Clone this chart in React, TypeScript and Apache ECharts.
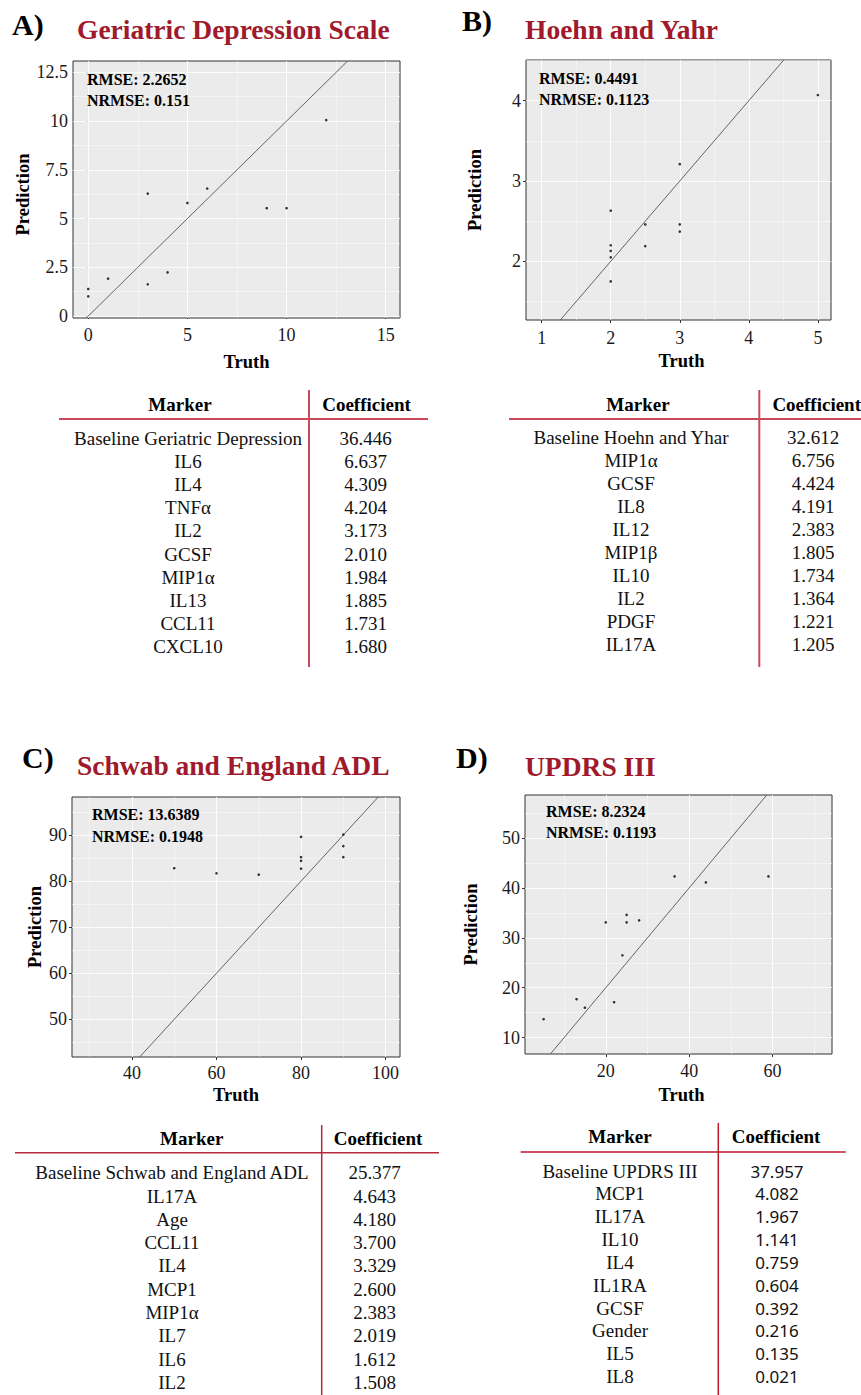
import React, { useEffect, useRef } from "react";
import * as echarts from "echarts";

// ---------- DATA ----------
// A) Geriatric Depression Scale
const gdsTruth = [0, 0, 1, 3, 3, 4, 5, 6, 9, 10, 12];
const gdsPred = [1.39, 1.01, 1.92, 1.63, 6.28, 2.24, 5.8, 6.54, 5.53, 5.53, 10.05];
const gdsXTicks = [0, 5, 10, 15];
const gdsYTicks = [0, 2.5, 5, 7.5, 10, 12.5];
const gdsXMinor = [2.5, 7.5, 12.5];
const gdsYMinor = [1.25, 3.75, 6.25, 8.75, 11.25];

// B) Hoehn and Yahr
const hyTruth = [2, 2, 2, 2, 2, 2.5, 2.5, 3, 3, 3, 5];
const hyPred = [2.63, 2.2, 2.13, 2.05, 1.75, 2.46, 2.19, 3.21, 2.46, 2.37, 4.07];
const hyXTicks = [1, 2, 3, 4, 5];
const hyYTicks = [2, 3, 4];
const hyXMinor = [1.5, 2.5, 3.5, 4.5];
const hyYMinor = [1.5, 2.5, 3.5, 4.5];

// C) Schwab and England ADL
const seTruth = [50, 60, 70, 80, 80, 80, 80, 90, 90, 90];
const sePred = [82.8, 81.7, 81.4, 89.6, 85.2, 84.4, 82.7, 90.1, 87.6, 85.2];
const seXTicks = [40, 60, 80, 100];
const seYTicks = [50, 60, 70, 80, 90];
const seXMinor = [30, 50, 70, 90];
const seYMinor = [45, 55, 65, 75, 85, 95];

// D) UPDRS III
const udTruth = [5.1, 13, 15, 22, 20, 24, 25, 25, 28, 36.5, 44, 59];
const udPred = [13.7, 17.7, 16.0, 17.1, 33.1, 26.5, 34.6, 33.1, 33.5, 42.3, 41.1, 42.3];
const udXTicks = [20, 40, 60];
const udYTicks = [10, 20, 30, 40, 50];
const udXMinor = [10, 30, 50, 70];
const udYMinor = [15, 25, 35, 45, 55];

// Titles & metrics
const panelLetters = ["A)", "B)", "C)", "D)"];
const panelTitles = ["Geriatric Depression Scale", "Hoehn and Yahr", "Schwab and England ADL", "UPDRS III"];
const rmseTexts = ["RMSE: 2.2652", "RMSE: 0.4491", "RMSE: 13.6389", "RMSE: 8.2324"];
const nrmseTexts = ["NRMSE: 0.151", "NRMSE: 0.1123", "NRMSE: 0.1948", "NRMSE: 0.1193"];

// Tables
const gdsMarkers = ["Baseline Geriatric Depression", "IL6", "IL4", "TNFα", "IL2", "GCSF", "MIP1α", "IL13", "CCL11", "CXCL10"];
const gdsCoefs = ["36.446", "6.637", "4.309", "4.204", "3.173", "2.010", "1.984", "1.885", "1.731", "1.680"];
const hyMarkers = ["Baseline Hoehn and Yhar", "MIP1α", "GCSF", "IL8", "IL12", "MIP1β", "IL10", "IL2", "PDGF", "IL17A"];
const hyCoefs = ["32.612", "6.756", "4.424", "4.191", "2.383", "1.805", "1.734", "1.364", "1.221", "1.205"];
const seMarkers = ["Baseline Schwab and England ADL", "IL17A", "Age", "CCL11", "IL4", "MCP1", "MIP1α", "IL7", "IL6", "IL2"];
const seCoefs = ["25.377", "4.643", "4.180", "3.700", "3.329", "2.600", "2.383", "2.019", "1.612", "1.508"];
const udMarkers = ["Baseline UPDRS III", "MCP1", "IL17A", "IL10", "IL4", "IL1RA", "GCSF", "Gender", "IL5", "IL8"];
const udCoefs = ["37.957", "4.082", "1.967", "1.141", "0.759", "0.604", "0.392", "0.216", "0.135", "0.021"];

// ---------- LAYOUT ----------
const SERIF = "'Liberation Serif', 'Times New Roman', serif";
const SANS = "'Noto Sans', 'Open Sans', sans-serif";
const TITLE_RED = "#9E1A2C";

type Panel = {
  grid: { left: number; top: number; width: number; height: number };
  xr: [number, number];
  yr: [number, number];
  truth: number[];
  pred: number[];
  xTicks: number[];
  yTicks: number[];
  xMinor: number[];
  yMinor: number[];
  xGap: number;
  yGap: number;
  xMargin: number;
  xNamePad: number;
  yNamePad: number;
  letterPos: [number, number];
  titlePos: [number, number];
  annoPos: [number, number, number];
};

const panels: Panel[] = [
  {
    grid: { left: 73, top: 61, width: 327, height: 257 },
    xr: [-0.77, 15.72], yr: [-0.1, 13.08],
    truth: gdsTruth, pred: gdsPred, xTicks: gdsXTicks, yTicks: gdsYTicks, xMinor: gdsXMinor, yMinor: gdsYMinor,
    xGap: 34, yGap: 36, xMargin: 8, xNamePad: 20, yNamePad: 10,
    letterPos: [12, 24], titlePos: [77, 29], annoPos: [87, 79, 100],
  },
  {
    grid: { left: 526, top: 60, width: 305, height: 260 },
    xr: [0.773, 5.19], yr: [1.27, 4.506],
    truth: hyTruth, pred: hyPred, xTicks: hyXTicks, yTicks: hyYTicks, xMinor: hyXMinor, yMinor: hyYMinor,
    xGap: 31, yGap: 42, xMargin: 9, xNamePad: 6, yNamePad: 0,
    letterPos: [462, 20], titlePos: [525, 29], annoPos: [539, 78, 99.5],
  },
  {
    grid: { left: 72, top: 797, width: 328, height: 260 },
    xr: [25.83, 103.4], yr: [41.83, 98.25],
    truth: seTruth, pred: sePred, xTicks: seXTicks, yTicks: seYTicks, xMinor: seXMinor, yMinor: seYMinor,
    xGap: 28, yGap: 28, xMargin: 7, xNamePad: 0, yNamePad: 0,
    letterPos: [22, 757], titlePos: [77, 765], annoPos: [92, 814, 836],
  },
  {
    grid: { left: 525, top: 795, width: 307, height: 259 },
    xr: [0.64, 74.24], yr: [6.73, 58.6],
    truth: udTruth, pred: udPred, xTicks: udXTicks, yTicks: udYTicks, xMinor: udXMinor, yMinor: udYMinor,
    xGap: 31, yGap: 45, xMargin: 8, xNamePad: 6, yNamePad: 0,
    letterPos: [456, 757], titlePos: [525, 766], annoPos: [546, 811, 832.5],
  },
];

type Table = {
  markers: string[];
  coefs: string[];
  headerY: number;
  markerHeadX: number;
  coefHeadX: number;
  markerX: number;
  coefX: number;
  rowY0: number;
  rowStep: number;
  hLine: [number, number, number];
  vLine: [number, number, number];
  lineColor: string;
  lineW: number;
  coefFont: string;
  coefSize: number;
};

const tables: Table[] = [
  {
    markers: gdsMarkers, coefs: gdsCoefs, headerY: 404, markerHeadX: 180, coefHeadX: 366.5,
    markerX: 188, coefX: 365.5, rowY0: 438.5, rowStep: 23.1,
    hLine: [59, 428, 419], vLine: [309, 390, 667], lineColor: "#C84A5C", lineW: 2, coefFont: SERIF, coefSize: 19,
  },
  {
    markers: hyMarkers, coefs: hyCoefs, headerY: 404, markerHeadX: 638, coefHeadX: 816.7,
    markerX: 631, coefX: 813, rowY0: 437, rowStep: 23.1,
    hLine: [509, 861, 419], vLine: [759.3, 390, 667], lineColor: "#C84A5C", lineW: 2, coefFont: SERIF, coefSize: 19,
  },
  {
    markers: seMarkers, coefs: seCoefs, headerY: 1138, markerHeadX: 191.7, coefHeadX: 378,
    markerX: 172, coefX: 374.7, rowY0: 1172.7, rowStep: 23.3,
    hLine: [15, 439, 1152.7], vLine: [321.7, 1125, 1395], lineColor: "#B8283C", lineW: 1.5, coefFont: SERIF, coefSize: 19,
  },
  {
    markers: udMarkers, coefs: udCoefs, headerY: 1136.7, markerHeadX: 620, coefHeadX: 776,
    markerX: 620, coefX: 777, rowY0: 1171, rowStep: 22.85,
    hLine: [520.7, 845.7, 1152], vLine: [718.3, 1123, 1395], lineColor: "#C0182E", lineW: 1.5, coefFont: SANS, coefSize: 17,
  },
];

function buildOption() {
  const grids: any[] = [];
  const xAxes: any[] = [];
  const yAxes: any[] = [];
  const series: any[] = [];
  const graphics: any[] = [];

  panels.forEach((p, i) => {
    grids.push({
      ...p.grid,
      show: true,
      backgroundColor: "#EBEBEB",
      borderColor: "#333333",
      borderWidth: 1,
      containLabel: false,
    });
    const labelStyle = { fontFamily: SERIF, fontSize: 18, color: "#1a1a1a" };
    xAxes.push({
      type: "value",
      gridIndex: i,
      min: p.xr[0],
      max: p.xr[1],
      name: "Truth",
      nameLocation: "middle",
      nameGap: p.xGap,
      nameTextStyle: { fontFamily: SERIF, fontSize: 18.5, fontWeight: "bold", color: "#000", padding: [0, 0, 0, p.xNamePad] },
      axisLine: { show: false },
      axisTick: { show: true, length: 3, customValues: p.xTicks, lineStyle: { color: "#333" } },
      axisLabel: { ...labelStyle, margin: p.xMargin, customValues: p.xTicks, showMinLabel: true, showMaxLabel: true },
      splitLine: { show: false },
    });
    yAxes.push({
      type: "value",
      gridIndex: i,
      min: p.yr[0],
      max: p.yr[1],
      name: "Prediction",
      nameLocation: "middle",
      nameGap: p.yGap,
      nameTextStyle: { fontFamily: SERIF, fontSize: 18.5, fontWeight: "bold", color: "#000", padding: [0, p.yNamePad, 0, 0] },
      axisLine: { show: false },
      axisTick: { show: true, length: 3, customValues: p.yTicks, lineStyle: { color: "#333" } },
      axisLabel: { ...labelStyle, margin: 5, customValues: p.yTicks, showMinLabel: true, showMaxLabel: true },
      splitLine: { show: false },
    });

    const lo = Math.max(p.xr[0], p.yr[0]);
    const hi = Math.min(p.xr[1], p.yr[1]);
    const major = { color: "#FFFFFF", width: 1, type: "solid", opacity: 0.85 };
    const minor = { color: "#FFFFFF", width: 0.5, type: "solid", opacity: 0.85 };
    const gridLines = [
      ...p.xTicks.map((v) => ({ xAxis: v, lineStyle: major })),
      ...p.yTicks.map((v) => ({ yAxis: v, lineStyle: major })),
      ...p.xMinor.filter((v) => v > p.xr[0] && v < p.xr[1]).map((v) => ({ xAxis: v, lineStyle: minor })),
      ...p.yMinor.filter((v) => v > p.yr[0] && v < p.yr[1]).map((v) => ({ yAxis: v, lineStyle: minor })),
    ];
    series.push({
      type: "line",
      xAxisIndex: i,
      yAxisIndex: i,
      data: [
        [lo, lo],
        [hi, hi],
      ],
      showSymbol: false,
      symbol: "none",
      silent: true,
      z: 3,
      lineStyle: { color: "#555555", width: 0.9 },
      markLine: {
        silent: true,
        symbol: "none",
        z: 1,
        label: { show: false },
        emphasis: { disabled: true },
        animation: false,
        data: gridLines,
      },
    });
    series.push({
      type: "scatter",
      xAxisIndex: i,
      yAxisIndex: i,
      data: p.truth.map((t, k) => [t, p.pred[k]]),
      symbol: "circle",
      symbolSize: 2.6,
      itemStyle: { color: "#000000" },
      z: 4,
      silent: true,
    });

    graphics.push({
      type: "text",
      x: p.letterPos[0],
      y: p.letterPos[1],
      style: { text: panelLetters[i], font: `bold 30px ${SERIF}`, fill: "#000", textAlign: "left", textVerticalAlign: "middle" },
    });
    graphics.push({
      type: "text",
      x: p.titlePos[0],
      y: p.titlePos[1],
      style: { text: panelTitles[i], font: `bold 27.5px ${SERIF}`, fill: TITLE_RED, textAlign: "left", textVerticalAlign: "middle" },
    });
    graphics.push({
      type: "text",
      x: p.annoPos[0],
      y: p.annoPos[1],
      z: 10,
      style: { text: rmseTexts[i], font: `bold 16px ${SERIF}`, fill: "#000", textAlign: "left", textVerticalAlign: "middle" },
    });
    graphics.push({
      type: "text",
      x: p.annoPos[0],
      y: p.annoPos[2],
      z: 10,
      style: { text: nrmseTexts[i], font: `bold 16px ${SERIF}`, fill: "#000", textAlign: "left", textVerticalAlign: "middle" },
    });
  });

  tables.forEach((t) => {
    graphics.push({
      type: "line",
      shape: { x1: t.hLine[0], y1: t.hLine[2], x2: t.hLine[1], y2: t.hLine[2] },
      style: { stroke: t.lineColor, lineWidth: t.lineW },
    });
    graphics.push({
      type: "line",
      shape: { x1: t.vLine[0], y1: t.vLine[1], x2: t.vLine[0], y2: t.vLine[2] },
      style: { stroke: t.lineColor, lineWidth: t.lineW },
    });
    graphics.push({
      type: "text",
      x: t.markerHeadX,
      y: t.headerY,
      style: { text: "Marker", font: `bold 19px ${SERIF}`, fill: "#000", textAlign: "center", textVerticalAlign: "middle" },
    });
    graphics.push({
      type: "text",
      x: t.coefHeadX,
      y: t.headerY,
      style: { text: "Coefficient", font: `bold 19px ${SERIF}`, fill: "#000", textAlign: "center", textVerticalAlign: "middle" },
    });
    t.markers.forEach((m, k) => {
      const y = t.rowY0 + k * t.rowStep;
      graphics.push({
        type: "text",
        x: t.markerX,
        y,
        style: { text: m, font: `19px ${SERIF}`, fill: "#111", textAlign: "center", textVerticalAlign: "middle" },
      });
      graphics.push({
        type: "text",
        x: t.coefX,
        y,
        style: { text: t.coefs[k], font: `${t.coefSize}px ${t.coefFont}`, fill: "#111", textAlign: "center", textVerticalAlign: "middle" },
      });
    });
  });

  return {
    animation: false,
    backgroundColor: "#FFFFFF",
    grid: grids,
    xAxis: xAxes,
    yAxis: yAxes,
    series,
    graphic: { elements: graphics },
  };
}

export default function App() {
  const ref = useRef<HTMLDivElement | null>(null);
  useEffect(() => {
    if (!ref.current) return;
    const chart = echarts.init(ref.current, undefined, { renderer: "svg" });
    chart.setOption(buildOption() as any);
    return () => {
      chart.dispose();
    };
  }, []);
  return (
    <div
      ref={ref}
      style={{ position: "absolute", left: 0, top: 0, width: 861, height: 1395, background: "#fff" }}
    />
  );
}
